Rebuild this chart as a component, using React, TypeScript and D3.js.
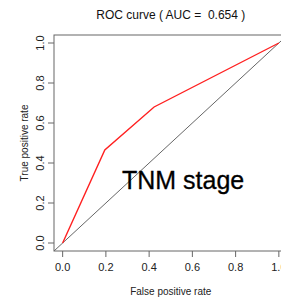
import * as d3 from 'd3';
import { useRef, useEffect } from 'react';

// ROC points (false positive rate, true positive rate)
const fpr = [0, 0.195, 0.423, 1];
const tpr = [0, 0.465, 0.68, 1];
const ticks = [0, 0.2, 0.4, 0.6, 0.8, 1.0];
const auc = '0.654';
const label = 'TNM stage';

export default function App() {
    const svgRef = useRef<SVGSVGElement>(null);

    useEffect(() => {
        if (!svgRef.current) return;
        const svg = d3.select(svgRef.current);
        svg.selectAll('*').remove();

        const left = 54, top = 35, bottom = 251;
        const x = d3.scaleLinear().domain([-0.04, 1.04]).range([left, left + 233.5]);
        const y = d3.scaleLinear().domain([-0.04, 1.04]).range([bottom, top]);
        const font = 'Liberation Sans, Arial, sans-serif';

        svg.append('defs').append('clipPath').attr('id', 'plot')
            .append('rect')
            .attr('x', x(-0.04)).attr('y', y(1.04))
            .attr('width', x(1.04) - x(-0.04)).attr('height', y(-0.04) - y(1.04));

        // chance diagonal
        svg.append('line')
            .attr('clip-path', 'url(#plot)')
            .attr('x1', x(-0.04)).attr('y1', y(-0.04))
            .attr('x2', x(1.04)).attr('y2', y(1.04))
            .attr('stroke', '#666').attr('stroke-width', 1);

        // ROC curve
        const pts: [number, number][] = fpr.map((f, i) => [f, tpr[i]]);
        svg.append('path')
            .attr('d', d3.line<[number, number]>().x(d => x(d[0])).y(d => y(d[1]))(pts))
            .attr('fill', 'none')
            .attr('stroke', '#ff2020')
            .attr('stroke-width', 1.4);

        // box
        svg.append('rect')
            .attr('x', x(-0.04)).attr('y', y(1.04))
            .attr('width', x(1.04) - x(-0.04)).attr('height', y(-0.04) - y(1.04))
            .attr('fill', 'none').attr('stroke', '#666').attr('stroke-width', 1);

        // x axis
        const gx = svg.append('g').attr('transform', `translate(0,${bottom})`);
        gx.selectAll('line').data(ticks).enter().append('line')
            .attr('x1', d => x(d)).attr('x2', d => x(d))
            .attr('y1', 0).attr('y2', 6)
            .attr('stroke', '#666');
        gx.selectAll('text').data(ticks).enter().append('text')
            .attr('x', d => x(d)).attr('y', 20)
            .attr('text-anchor', 'middle')
            .attr('font-family', font).attr('font-size', 11).attr('fill', '#222')
            .text(d => d.toFixed(1));

        // y axis
        const gy = svg.append('g').attr('transform', `translate(${left},0)`);
        gy.selectAll('line').data(ticks).enter().append('line')
            .attr('x1', -6).attr('x2', 0)
            .attr('y1', d => y(d)).attr('y2', d => y(d))
            .attr('stroke', '#666');
        gy.selectAll('text').data(ticks).enter().append('text')
            .attr('transform', d => `translate(-10,${y(d)}) rotate(-90)`)
            .attr('text-anchor', 'middle')
            .attr('font-family', font).attr('font-size', 11).attr('fill', '#222')
            .text(d => d.toFixed(1));

        const cx = (x(-0.04) + x(1.04)) / 2;
        const cy = (y(-0.04) + y(1.04)) / 2;

        svg.append('text')
            .attr('x', cx).attr('y', 19)
            .attr('text-anchor', 'middle')
            .style('white-space', 'pre')
            .attr('font-family', font).attr('font-size', 12).attr('fill', '#111')
            .text(`ROC curve ( AUC =  ${auc} )`);

        svg.append('text')
            .attr('x', cx).attr('y', 295)
            .attr('text-anchor', 'middle')
            .attr('font-family', font).attr('font-size', 10).attr('fill', '#222')
            .text('False positive rate');

        svg.append('text')
            .attr('transform', `translate(28,${cy}) rotate(-90)`)
            .attr('text-anchor', 'middle')
            .attr('font-family', font).attr('font-size', 10).attr('fill', '#222')
            .text('True positive rate');

        svg.append('text')
            .attr('x', 122).attr('y', 189)
            .attr('font-family', font).attr('font-size', 25).attr('fill', '#000')
            .attr('stroke', '#000').attr('stroke-width', 0.3)
            .text(label);
    }, []);

    return (
        <svg ref={svgRef} width={281} height={298}
            style={{ position: 'absolute', left: 0, top: 0, background: '#fff' }} />
    );
}
